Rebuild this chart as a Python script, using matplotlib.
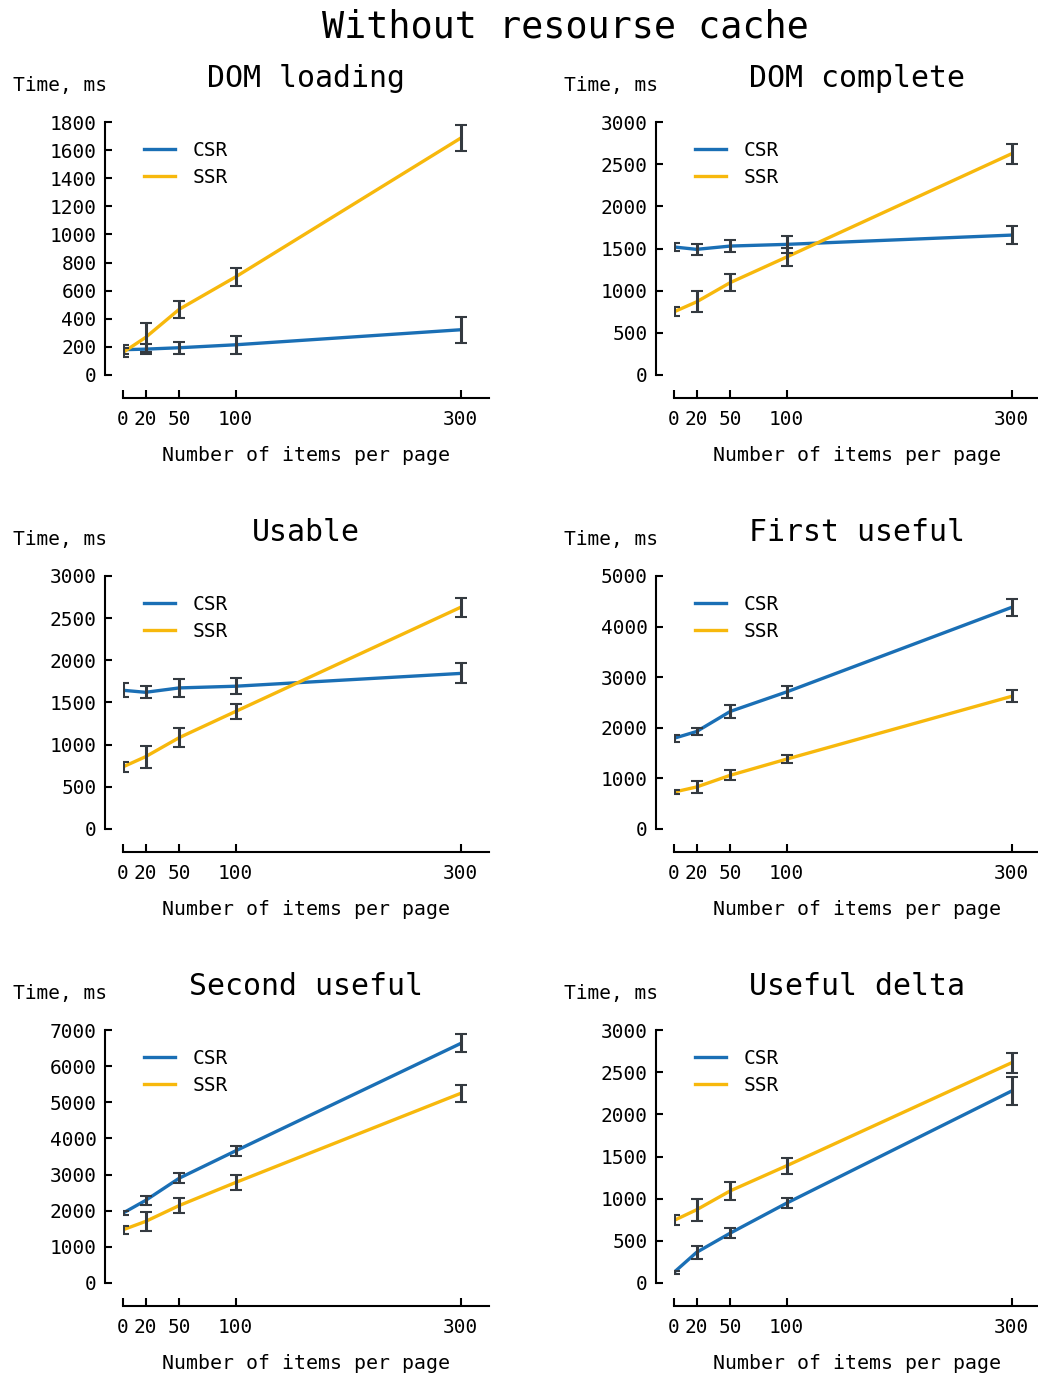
import matplotlib.pyplot as plt
import numpy as np

plt.rcParams['font.family'] = ['DejaVu Sans Mono']

# items per page
items = [0, 20, 50, 100, 300]

titles = ["DOM loading", "DOM complete", "Usable", "First useful",
          "Second useful", "Useful delta"]
y_max = [1800, 3000, 3000, 5000, 7000, 3000]
y_step = [200, 500, 500, 1000, 1000, 500]

csr_mean = [
    [180, 184, 194, 215, 322],
    [1518, 1490, 1529, 1549, 1659],
    [1645, 1621, 1673, 1693, 1845],
    [1793, 1926, 2324, 2709, 4382],
    [1934, 2284, 2901, 3656, 6630],
    [126, 363, 592, 947, 2278],
]
csr_err = [
    [33, 35, 44, 65, 91],
    [51, 65, 75, 100, 110],
    [84, 70, 104, 96, 118],
    [73, 73, 126, 116, 173],
    [46, 115, 143, 138, 249],
    [20, 77, 59, 59, 166],
]
ssr_mean = [
    [161, 267, 468, 698, 1686],
    [749, 867, 1096, 1399, 2625],
    [737, 857, 1084, 1394, 2630],
    [730, 830, 1062, 1381, 2623],
    [1473, 1703, 2145, 2781, 5249],
    [742, 868, 1093, 1390, 2613],
]
ssr_err = [
    [32, 100, 62, 62, 91],
    [53, 124, 99, 104, 118],
    [58, 130, 112, 94, 114],
    [46, 126, 100, 86, 116],
    [110, 262, 203, 198, 230],
    [59, 130, 103, 93, 120],
]

BLUE = '#1a6fb5'
YELLOW = '#f7b80c'
W, H = 1038, 1373


def draw_panel(ax, i):
    ax.plot(items, csr_mean[i], color=BLUE, lw=2.4, label='CSR', zorder=2)
    ax.plot(items, ssr_mean[i], color=YELLOW, lw=2.4, label='SSR', zorder=2)
    for m, e in ((csr_mean[i], csr_err[i]), (ssr_mean[i], ssr_err[i])):
        _, caps, _ = ax.errorbar(items, m, yerr=e, fmt='none', ecolor='#343a40',
                                 elinewidth=2.2, capsize=4.5, capthick=1.5, zorder=3)
        for c in caps:
            c.set_color('#8a8a8a')

    ax.set_xlim(0, 325)
    ax.set_ylim(0, y_max[i])
    ax.set_xticks(items)
    ax.set_yticks(np.arange(0, y_max[i] + 1, y_step[i]))

    for s in ('top', 'right'):
        ax.spines[s].set_visible(False)
    ax.spines['left'].set_position(('outward', 13))
    ax.spines['bottom'].set_position(('outward', 16.5))
    ax.spines['left'].set_bounds(0, y_max[i])
    ax.spines['left'].set_linewidth(1.5)
    ax.spines['bottom'].set_linewidth(1.5)
    ax.tick_params(axis='y', direction='in', length=5, width=1.5, labelsize=14, pad=6)
    ax.tick_params(axis='x', direction='in', length=6, width=1.5, labelsize=14, pad=9)

    ax.set_title(titles[i], fontsize=21.5, pad=25)
    ax.text(-0.30, 1.145, 'Time, ms', transform=ax.transAxes, fontsize=14,
            ha='left', va='center')
    ax.set_xlabel('Number of items per page', fontsize=14.3, labelpad=12)
    ax.legend(loc='upper left', bbox_to_anchor=(0.01, 0.995), frameon=False,
              fontsize=14, handlelength=1.6, handletextpad=0.9, labelspacing=0.4)


fig = plt.figure(figsize=(W / 100, H / 100), dpi=100)
lefts = [123, 674]
tops = [122, 576, 1030]
for i in range(6):
    r, c = divmod(i, 2)
    ax = fig.add_axes([lefts[c] / W, 1 - (tops[r] + 253) / H, 366 / W, 253 / H])
    draw_panel(ax, i)

fig.suptitle('Without resourse cache', fontsize=26.5, x=565 / W, y=1 - 27 / H, va='center')
fig.savefig('out.png', dpi=100)
